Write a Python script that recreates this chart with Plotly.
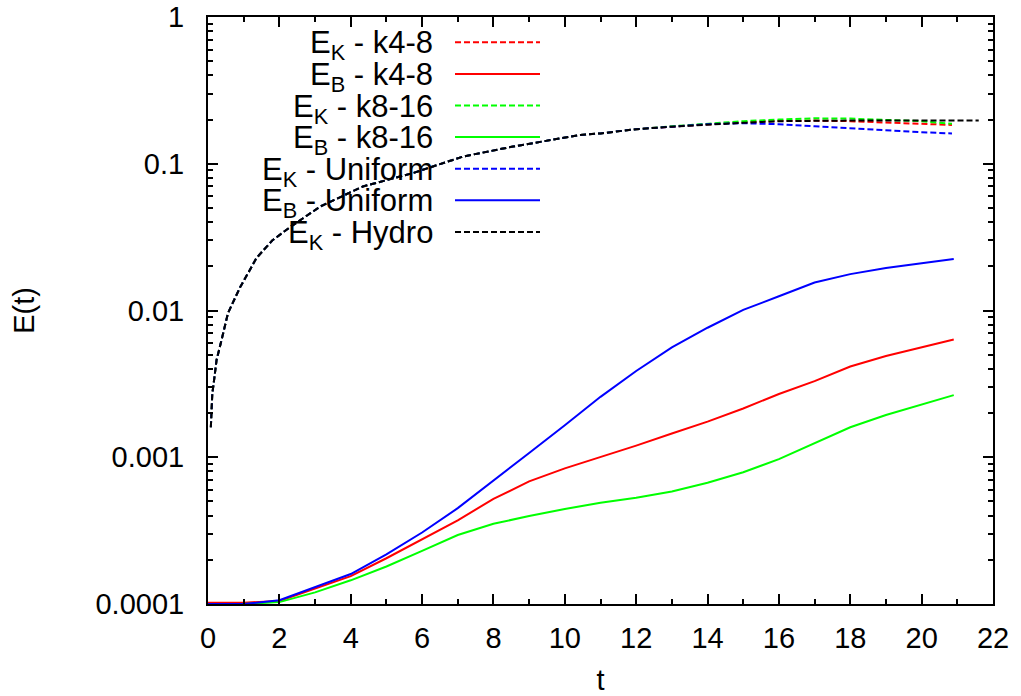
import plotly.graph_objects as go

# ---------------- data ----------------
t_k = [0.08, 0.12, 0.16, 0.24, 0.38, 0.56, 0.9, 1.36, 1.8, 2.3, 3.14, 4.34, 5.75, 7.15,
       8.55, 10.43, 11.0, 12.0, 13.0, 14.0, 15.0, 16.0, 17.0, 18.0, 19.0, 20.0, 20.85]
t_hydro = [0.08, 0.12, 0.16, 0.24, 0.38, 0.56, 0.9, 1.36, 1.8, 2.3, 3.14, 4.34, 5.75, 7.15,
           8.55, 10.43, 11.0, 12.0, 13.0, 14.0, 15.0, 16.0, 17.0, 18.0, 19.0, 20.0, 21.0, 21.6]

ek_hydro = [0.0016, 0.0027, 0.0032, 0.0046, 0.0063, 0.0096, 0.0144, 0.0228, 0.030, 0.037,
            0.051, 0.070, 0.0865, 0.112, 0.131, 0.157, 0.161, 0.172, 0.179, 0.185, 0.190,
            0.195, 0.197, 0.197, 0.197, 0.197, 0.197, 0.197]
ek_k48 = [0.0016, 0.0027, 0.0032, 0.0046, 0.0063, 0.0096, 0.0144, 0.0228, 0.030, 0.037,
          0.051, 0.070, 0.0865, 0.112, 0.131, 0.157, 0.161, 0.172, 0.179, 0.186, 0.192,
          0.196, 0.197, 0.195, 0.190, 0.187, 0.184]
ek_k816 = [0.0016, 0.0027, 0.0032, 0.0046, 0.0063, 0.0096, 0.0144, 0.0228, 0.030, 0.037,
           0.051, 0.070, 0.0865, 0.112, 0.131, 0.157, 0.161, 0.172, 0.180, 0.187, 0.195,
           0.200, 0.204, 0.203, 0.200, 0.195, 0.187]
ek_unif = [0.0016, 0.0027, 0.0032, 0.0046, 0.0063, 0.0096, 0.0144, 0.0228, 0.030, 0.037,
           0.051, 0.070, 0.0865, 0.112, 0.131, 0.157, 0.161, 0.172, 0.179, 0.186, 0.189,
           0.186, 0.180, 0.174, 0.168, 0.164, 0.161]

t_b = [0, 1, 2, 3, 4, 5, 6, 7, 8, 9, 10, 11, 12, 13, 14, 15, 16, 17, 18, 19, 20, 20.9]
eb_k48 = [1.02e-4, 1.02e-4, 1.05e-4, 1.27e-4, 1.55e-4, 2.05e-4, 2.75e-4, 3.72e-4, 5.2e-4,
          6.85e-4, 8.4e-4, 1.0e-3, 1.2e-3, 1.45e-3, 1.75e-3, 2.15e-3, 2.7e-3, 3.3e-3,
          4.15e-3, 4.9e-3, 5.65e-3, 6.35e-3]
eb_k816 = [1.0e-4, 1.0e-4, 1.03e-4, 1.2e-4, 1.45e-4, 1.8e-4, 2.3e-4, 2.95e-4, 3.52e-4,
           3.98e-4, 4.44e-4, 4.9e-4, 5.3e-4, 5.85e-4, 6.7e-4, 7.9e-4, 9.7e-4, 1.25e-3,
           1.6e-3, 1.94e-3, 2.3e-3, 2.65e-3]
eb_unif = [1.0e-4, 1.0e-4, 1.06e-4, 1.3e-4, 1.6e-4, 2.18e-4, 3.07e-4, 4.5e-4, 6.9e-4,
           1.07e-3, 1.65e-3, 2.58e-3, 3.87e-3, 5.6e-3, 7.63e-3, 1.01e-2, 1.25e-2, 1.55e-2,
           1.77e-2, 1.95e-2, 2.1e-2, 2.24e-2]

y_tickvals = [1e-4, 1e-3, 1e-2, 1e-1, 1]
y_ticktext = ["0.0001", "0.001", "0.01", "0.1", "1"]
x_tickvals = list(range(0, 23, 2))

labels = ["E<sub>K</sub> - k4-8", "E<sub>B</sub> - k4-8", "E<sub>K</sub> - k8-16",
          "E<sub>B</sub> - k8-16", "E<sub>K</sub> - Uniform", "E<sub>B</sub> - Uniform",
          "E<sub>K</sub> - Hydro"]

# ---------------- figure ----------------
FONT = "Liberation Sans, Arial, Helvetica, sans-serif"
FS = 29
KEY_FS = 31
DASH = "6px,3px"

series = [
    (t_k, ek_k48, "#ff0000", DASH),
    (t_b, eb_k48, "#ff0000", "solid"),
    (t_k, ek_k816, "#00ff00", DASH),
    (t_b, eb_k816, "#00ff00", "solid"),
    (t_k, ek_unif, "#0000ff", DASH),
    (t_b, eb_unif, "#0000ff", "solid"),
    (t_hydro, ek_hydro, "#000000", DASH),
]

fig = go.Figure()
for (xs, ys, col, dash), name in zip(series, labels):
    fig.add_trace(go.Scatter(x=xs, y=ys, mode="lines", name=name, showlegend=False,
                             line=dict(color=col, width=2, dash=dash)))

# gnuplot-style key: text right-aligned, line sample to the right
W_PLOT, H_PLOT = 785, 587
key_text_x = (435 - 208) / W_PLOT
key_x0 = (455 - 208) / W_PLOT
key_x1 = (540 - 208) / W_PLOT
key_y0 = 42.3
key_dy = 31.6
annotations = []
shapes = []
for i, ((xs, ys, col, dash), name) in enumerate(zip(series, labels)):
    yp = 1 - (key_y0 + i * key_dy - 17) / H_PLOT
    annotations.append(dict(x=key_text_x, y=yp, xref="paper", yref="paper", text=name,
                            showarrow=False, xanchor="right", yanchor="middle", yshift=-3,
                            font=dict(family=FONT, size=KEY_FS, color="black")))
    shapes.append(dict(type="line", xref="paper", yref="paper", x0=key_x0, x1=key_x1,
                       y0=yp, y1=yp, line=dict(color=col, width=2, dash=dash)))

axis_common = dict(showgrid=False, zeroline=False, showline=True, linecolor="black",
                   linewidth=2, mirror="allticks", ticks="inside", tickcolor="black",
                   tickwidth=1.5, ticklen=10, automargin=False,
                   tickfont=dict(family=FONT, size=FS, color="black"))

fig.update_layout(
    width=1021, height=696,
    margin=dict(l=208, r=28, t=17, b=92),
    paper_bgcolor="white", plot_bgcolor="white",
    font=dict(family=FONT, size=FS, color="black"),
    annotations=annotations, shapes=shapes,
    xaxis=dict(range=[0, 22], tickmode="array", tickvals=x_tickvals, ticklabelstandoff=7,
               title=dict(text="t", font=dict(family=FONT, size=FS), standoff=27),
               minor=dict(ticks="inside", ticklen=5, dtick=1, tickcolor="black", tickwidth=1.5),
               **axis_common),
    yaxis=dict(type="log", range=[-4, 0], tickmode="array", tickvals=y_tickvals,
               ticktext=y_ticktext, ticklabelstandoff=16,
               title=dict(text="E(t)", font=dict(family=FONT, size=FS), standoff=52),
               minor=dict(ticks="inside", ticklen=5, tickmode="array",
                          tickvals=[m * 10 ** e for e in range(-4, 0) for m in range(2, 10)],
                          tickcolor="black", tickwidth=1.5),
               **axis_common),
)

fig.write_html("out.html")
